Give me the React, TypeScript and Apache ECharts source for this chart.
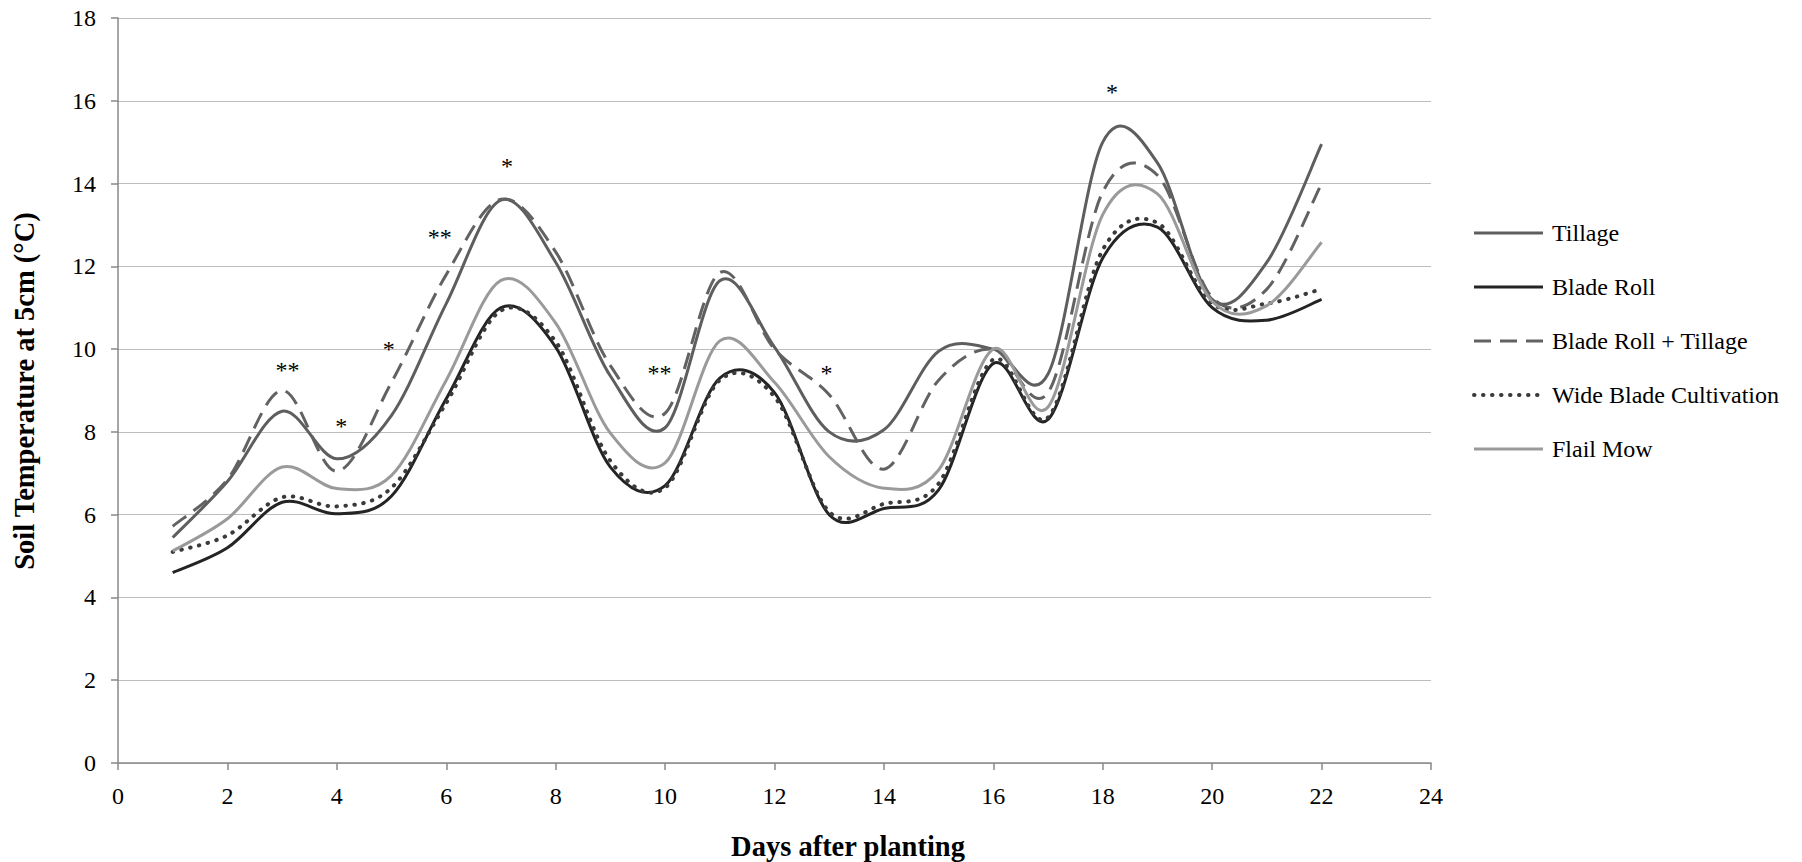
import React, { useEffect, useRef } from 'react';
import * as echarts from 'echarts';

const days = [1, 2, 3, 4, 5, 6, 7, 8, 9, 10, 11, 12, 13, 14, 15, 16, 17, 18, 19, 20, 21, 22];

const tillage = [5.45, 6.8, 8.5, 7.35, 8.4, 11.1, 13.6, 12.1, 9.35, 8.1, 11.65, 10.05, 8.0, 8.05, 9.95, 10.0, 9.4, 15.0, 14.5, 11.2, 12.1, 14.95];
const bladeRoll = [4.6, 5.2, 6.3, 6.02, 6.45, 8.8, 11.0, 10.05, 7.15, 6.7, 9.3, 8.95, 6.0, 6.15, 6.6, 9.65, 8.3, 12.2, 12.95, 11.0, 10.7, 11.2];
const bladeRollTillage = [5.72, 6.85, 9.0, 7.05, 9.2, 11.8, 13.62, 12.35, 9.6, 8.45, 11.85, 10.0, 8.9, 7.1, 9.25, 10.0, 8.95, 13.8, 14.2, 11.25, 11.45, 14.0];
const wideBladeCultivation = [5.1, 5.5, 6.42, 6.2, 6.65, 8.7, 10.93, 10.18, 7.3, 6.65, 9.25, 8.85, 6.07, 6.26, 6.75, 9.75, 8.35, 12.4, 13.05, 11.1, 11.1, 11.45];
const flailMow = [5.12, 5.9, 7.15, 6.63, 6.95, 9.25, 11.66, 10.63, 7.97, 7.25, 10.2, 9.2, 7.4, 6.64, 7.08, 10.0, 8.6, 13.25, 13.75, 11.15, 11.05, 12.58];

const seriesNames = ['Tillage', 'Blade Roll', 'Blade Roll + Tillage', 'Wide Blade Cultivation', 'Flail Mow'];
const seriesValues = [tillage, bladeRoll, bladeRollTillage, wideBladeCultivation, flailMow];

const xTicks = [0, 2, 4, 6, 8, 10, 12, 14, 16, 18, 20, 22, 24];
const yTicks = [0, 2, 4, 6, 8, 10, 12, 14, 16, 18];

const sigX = [3.1, 4.08, 4.95, 5.88, 7.11, 9.9, 12.95, 18.17];
const sigY = [9.58, 8.23, 10.1, 12.8, 14.51, 9.52, 9.51, 16.31];
const sigLabels = ['**', '*', '*', '**', '*', '**', '*', '*'];

const FONT = 'Liberation Serif';

const lineStyles: any[] = [
  { stroke: '#5e5e5e', lineWidth: 3 },
  { stroke: '#242424', lineWidth: 3 },
  { stroke: '#626262', lineWidth: 3, lineDash: [17, 9], lineCap: 'butt' },
  { stroke: '#3a3a3a', lineWidth: 4, lineDash: [0.5, 8.5], lineCap: 'round' },
  { stroke: '#9a9a9a', lineWidth: 3 },
];

function pickSerif(): { family: string; size: number } {
  const canvas = document.createElement('canvas');
  const ctx = canvas.getContext('2d');
  if (!ctx) return { family: `'${FONT}'`, size: 24 };
  const sample = 'Wide Blade Cultivation';
  const w = (f: string) => { ctx.font = f; return ctx.measureText(sample).width; };
  const mono = w('24px monospace');
  const sans = w('24px sans-serif');
  const candidates = ['Liberation Serif', 'Tinos', 'Times New Roman', 'DejaVu Serif', 'FreeSerif', 'Noto Serif'];
  for (const c of candidates) {
    const a = w(`24px '${c}', monospace`);
    const b = w(`24px '${c}', sans-serif`);
    if (a !== mono && b !== sans) {
      const width = w(`24px '${c}'`);
      let size = 24 * (227 / width);
      size = Math.max(17, Math.min(25, size));
      return { family: `'${c}', serif`, size: Math.round(size * 10) / 10 };
    }
  }
  return { family: `'${FONT}', serif`, size: 24 };
}

export default function App() {
  const ref = useRef<HTMLDivElement>(null);

  useEffect(() => {
    if (!ref.current) return;
    const chart = echarts.init(ref.current, undefined, { renderer: 'svg' });
    const serif = pickSerif();
    const regFont = `normal ${serif.size}px ${serif.family}`;

    const smoothSeries = (idx: number) => {
      const vals = seriesValues[idx];
      return {
        type: 'custom',
        name: seriesNames[idx],
        coordinateSystem: 'cartesian2d',
        data: days.map((d, i) => [d, vals[i]]),
        encode: { x: 0, y: 1 },
        silent: true,
        z: 3,
        renderItem: (params: any, api: any) => {
          if (params.dataIndex !== 0) return null;
          const pts = days.map((d, i) => api.coord([d, vals[i]]));
          const n = pts.length;
          let d = `M${pts[0][0]},${pts[0][1]}`;
          for (let i = 0; i < n - 1; i++) {
            const p0 = pts[Math.max(i - 1, 0)];
            const p1 = pts[i];
            const p2 = pts[i + 1];
            const p3 = pts[Math.min(i + 2, n - 1)];
            const c1x = p1[0] + (p2[0] - p0[0]) / 6;
            const c1y = p1[1] + (p2[1] - p0[1]) / 6;
            const c2x = p2[0] - (p3[0] - p1[0]) / 6;
            const c2y = p2[1] - (p3[1] - p1[1]) / 6;
            d += ` C${c1x},${c1y} ${c2x},${c2y} ${p2[0]},${p2[1]}`;
          }
          return {
            type: 'path',
            shape: { pathData: d },
            style: { fill: 'none', lineJoin: 'round', ...lineStyles[idx] },
          };
        },
      };
    };

    const xTickLabels = {
      type: 'custom', coordinateSystem: 'cartesian2d', silent: true, z: 10,
      data: xTicks.map((v) => [v, 0]),
      encode: { x: 0, y: 1 },
      renderItem: (params: any, api: any) => {
        const v = api.value(0);
        const p = api.coord([v, 0]);
        return {
          type: 'text', x: p[0], y: p[1] + 21,
          style: { text: String(v), font: regFont, fill: '#000', align: 'center', verticalAlign: 'top' },
        };
      },
    };

    const yTickLabels = {
      type: 'custom', coordinateSystem: 'cartesian2d', silent: true, z: 10,
      data: yTicks.map((v) => [0, v]),
      encode: { x: 0, y: 1 },
      renderItem: (params: any, api: any) => {
        const v = api.value(1);
        const p = api.coord([0, v]);
        return {
          type: 'text', x: p[0] - 22, y: p[1],
          style: { text: String(v), font: regFont, fill: '#000', align: 'right', verticalAlign: 'middle' },
        };
      },
    };

    const sigSeries = {
      type: 'custom', coordinateSystem: 'cartesian2d', silent: true, z: 10,
      data: sigX.map((x, i) => [x, sigY[i]]),
      encode: { x: 0, y: 1 },
      renderItem: (params: any, api: any) => {
        const p = api.coord([api.value(0), api.value(1)]);
        return {
          type: 'text', x: p[0], y: p[1] + 4,
          style: { text: sigLabels[params.dataIndex], font: regFont, fill: '#000', align: 'center', verticalAlign: 'middle' },
        };
      },
    };

    const legendTop = 233;
    const legendGap = 54;
    const legendItems = seriesNames.map((name, i) => ({
      type: 'group',
      children: [
        {
          type: 'line',
          shape: { x1: 1474, y1: legendTop + legendGap * i, x2: 1543, y2: legendTop + legendGap * i },
          style: { ...lineStyles[i] },
        },
        {
          type: 'text', x: 1552, y: legendTop + legendGap * i,
          style: { text: name, font: regFont, fill: '#000', textAlign: 'left', textVerticalAlign: 'middle' },
        },
      ],
    }));

    chart.setOption({
      animation: false,
      backgroundColor: '#ffffff',
      grid: { left: 118, right: 371, top: 18, bottom: 99, containLabel: false },
      xAxis: {
        type: 'value', min: 0, max: 24, interval: 2,
        axisLine: { show: true, onZero: false, lineStyle: { color: '#898989', width: 1.5 } },
        axisTick: { show: true, length: 7, lineStyle: { color: '#898989', width: 1.5 } },
        axisLabel: { show: false },
        splitLine: { show: false },
      },
      yAxis: {
        type: 'value', min: 0, max: 18, interval: 2,
        axisLine: { show: true, lineStyle: { color: '#898989', width: 1.5 } },
        axisTick: { show: true, length: 7, lineStyle: { color: '#898989', width: 1.5 } },
        axisLabel: { show: false },
        splitLine: { show: true, lineStyle: { color: '#bcbcbc', width: 1.2 } },
      },
      graphic: [
        {
          type: 'text', x: 848, y: 846,
          style: { text: 'Days after planting', font: `bold 28.5px ${FONT}`, fill: '#000', textAlign: 'center', textVerticalAlign: 'middle' },
        },
        {
          type: 'text', x: 24, y: 391, rotation: Math.PI / 2,
          style: { text: 'Soil Temperature at 5cm (°C)', font: `bold 28.5px ${FONT}`, fill: '#000', textAlign: 'center', textVerticalAlign: 'middle' },
        },
        ...legendItems,
      ],
      series: [
        smoothSeries(0),
        smoothSeries(1),
        smoothSeries(2),
        smoothSeries(3),
        smoothSeries(4),
        xTickLabels,
        yTickLabels,
        sigSeries,
      ],
    });

    return () => chart.dispose();
  }, []);

  return <div ref={ref} style={{ position: 'absolute', left: 0, top: 0, width: 1802, height: 862 }} />;
}
